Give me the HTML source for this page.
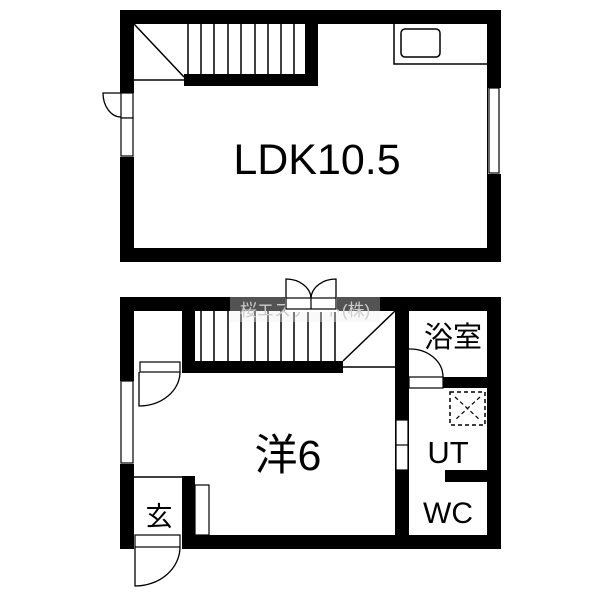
<!DOCTYPE html>
<html><head><style>body{margin:0;background:#fff}svg{display:block}</style></head><body>
<svg width="600" height="600" viewBox="0 0 600 600" xmlns="http://www.w3.org/2000/svg" font-family="Liberation Sans, Noto Sans CJK JP, sans-serif">
<rect width="600" height="600" fill="#fff"/>
<rect x="127" y="17" width="367" height="238" fill="none" stroke="#000" stroke-width="14"/>
<rect x="184" y="74" width="134" height="12" fill="#000"/>
<rect x="305" y="24" width="13" height="62" fill="#000"/>
<g stroke="#000" stroke-width="1.5">
<line x1="188" y1="24" x2="188" y2="74"/><line x1="201" y1="24" x2="201" y2="74"/><line x1="214" y1="24" x2="214" y2="74"/><line x1="228" y1="24" x2="228" y2="74"/><line x1="241" y1="24" x2="241" y2="74"/><line x1="255" y1="24" x2="255" y2="74"/><line x1="268" y1="24" x2="268" y2="74"/><line x1="281" y1="24" x2="281" y2="74"/><line x1="294" y1="24" x2="294" y2="74"/>
<line x1="134" y1="24" x2="184" y2="77"/><line x1="134" y1="80" x2="184" y2="80"/>
</g>
<path d="M394 24 V64 H488" fill="none" stroke="#000" stroke-width="1.5"/>
<rect x="401" y="29" width="39" height="28" rx="4" fill="none" stroke="#000" stroke-width="1.5"/>
<rect x="119" y="93" width="16" height="64" fill="#fff"/>
<rect x="121" y="93" width="12" height="25" fill="#fff" stroke="#000" stroke-width="1.2"/>
<rect x="121" y="118" width="12" height="38" fill="#fff" stroke="#000" stroke-width="1.2"/>
<path d="M121 117 A18 24 0 0 1 103 93 H121" fill="none" stroke="#000" stroke-width="1.3"/>
<rect x="488" y="88" width="14" height="86" fill="#fff"/>
<rect x="489" y="88" width="10" height="85" fill="#fff" stroke="#000" stroke-width="1.2"/>
<text x="317" y="174" font-size="43" text-anchor="middle">LDK10.5</text>

<rect x="127" y="304" width="367" height="238" fill="none" stroke="#000" stroke-width="14"/>
<rect x="395" y="297" width="14" height="245" fill="#000"/>
<rect x="182" y="311" width="13" height="62" fill="#000"/>
<rect x="182" y="361" width="161" height="12" fill="#000"/>
<g stroke="#000" stroke-width="1.5">
<line x1="201" y1="311" x2="201" y2="361"/><line x1="214" y1="311" x2="214" y2="361"/><line x1="228" y1="311" x2="228" y2="361"/><line x1="241" y1="311" x2="241" y2="361"/><line x1="255" y1="311" x2="255" y2="361"/><line x1="268" y1="311" x2="268" y2="361"/><line x1="281" y1="311" x2="281" y2="361"/><line x1="294" y1="311" x2="294" y2="361"/><line x1="308" y1="311" x2="308" y2="361"/><line x1="321" y1="311" x2="321" y2="361"/><line x1="335" y1="311" x2="335" y2="361"/>
<line x1="343" y1="361" x2="395" y2="311"/><line x1="343" y1="367" x2="395" y2="367"/>
</g>
<rect x="230" y="297" width="150" height="25" fill="#eee" opacity="0.35"/>
<text x="305" y="316" font-size="17" fill="#ccc" text-anchor="middle">桜エステート(株)</text>
<rect x="285" y="296" width="52" height="16" fill="#fff"/>
<rect x="286" y="298" width="50" height="11" fill="#fff" stroke="#000" stroke-width="1.2"/>
<line x1="311" y1="298" x2="311" y2="309" stroke="#000" stroke-width="1.2"/>
<path d="M286 298 V279 A25 20 0 0 1 311 298 M336 298 V279 A25 20 0 0 0 311 298" fill="none" stroke="#000" stroke-width="1.3"/>
<rect x="443" y="377" width="45" height="11" fill="#000"/>
<rect x="409" y="377" width="34" height="11" fill="#fff" stroke="#000" stroke-width="1.2"/>
<path d="M409 349 A33 28 0 0 1 443 377" fill="none" stroke="#000" stroke-width="1.3"/>
<rect x="450" y="392" width="35" height="33" fill="none" stroke="#000" stroke-width="1.5" stroke-dasharray="4 3"/>
<path d="M455 397 L480 420 M480 397 L455 420" stroke="#000" stroke-width="1.2" stroke-dasharray="4 3"/>
<rect x="445" y="470" width="43" height="12" fill="#000"/>
<rect x="396" y="420" width="12" height="50" fill="#fff" stroke="#000" stroke-width="1.2"/>
<line x1="396" y1="445" x2="408" y2="445" stroke="#000" stroke-width="1.2"/>
<rect x="134" y="361" width="48" height="12" fill="#fff"/>
<rect x="140" y="362" width="40" height="10" fill="#fff" stroke="#000" stroke-width="1.2"/>
<path d="M139 372 V406 A41 34 0 0 0 180 372" fill="none" stroke="#000" stroke-width="1.3"/>
<rect x="119" y="381" width="16" height="83" fill="#fff"/>
<rect x="121" y="381" width="12" height="82" fill="#fff" stroke="#000" stroke-width="1.2"/>
<line x1="134" y1="477" x2="182" y2="477" stroke="#000" stroke-width="1.5"/>
<rect x="182" y="476" width="13" height="66" fill="#000"/>
<rect x="195" y="485" width="14" height="50" fill="#fff" stroke="#000" stroke-width="1.2"/>
<rect x="134" y="534" width="48" height="16" fill="#fff"/>
<rect x="135" y="535" width="45" height="12" fill="#fff" stroke="#000" stroke-width="1.2"/>
<path d="M135 547 V586 A45 39 0 0 0 180 547" fill="none" stroke="#000" stroke-width="1.3"/>
<text x="159" y="526" font-size="27" text-anchor="middle">玄</text>
<text x="288" y="470" font-size="43" text-anchor="middle">洋6</text>
<text x="453" y="347" font-size="29" text-anchor="middle">浴室</text>
<text x="448" y="463" font-size="31" text-anchor="middle">UT</text>
<text x="448" y="523" font-size="30" text-anchor="middle">WC</text>
</svg>
</body></html>
